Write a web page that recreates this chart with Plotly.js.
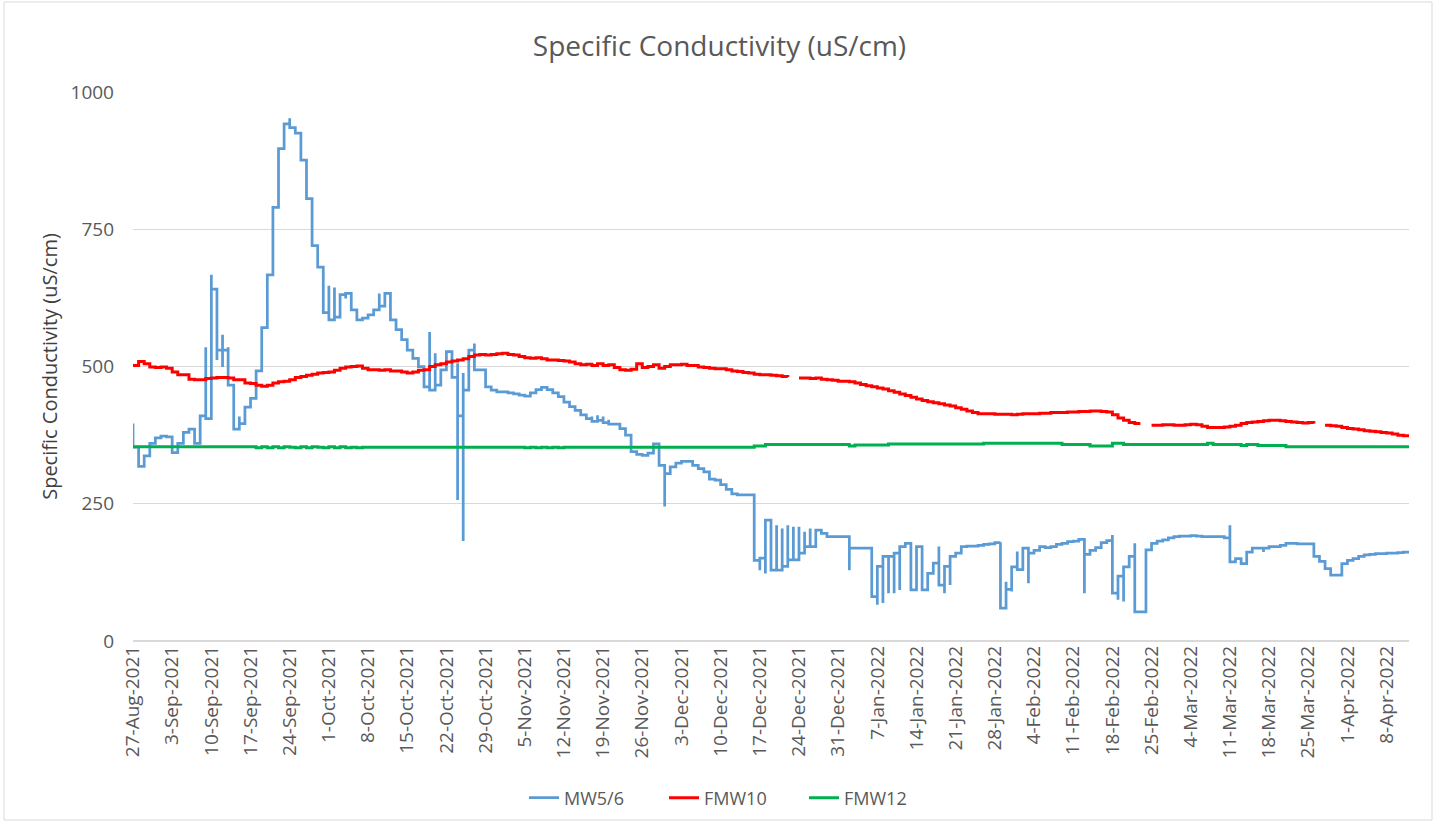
<!DOCTYPE html>
<html>
<head>
<meta charset="utf-8">
<script src="https://cdn.plot.ly/plotly-3.0.1.min.js"></script>
<style>
  html, body { margin: 0; padding: 0; background: #ffffff; }
  #chart { width: 1439px; height: 824px; }
</style>
</head>
<body>
<div id="chart"></div>
<script>
// ---------------- DATA ----------------
const startDate = '2021-08-27';
const endDay = 228;           // last day shown on the axis (12-Apr-2022)
const seriesNames = ['MW5/6', 'FMW10', 'FMW12'];

// MW5/6: day offset from 27-Aug-2021 and reading (several readings per day where the record jumps)
const mwDay = [
  0,0, 1,1, 2,2, 3, 4, 5, 6, 7,7, 8,8, 9, 10, 11, 12,12, 13,13, 14,14,14, 15,15,15, 16,16,16, 17,17, 18, 19,19,
  20, 21, 22, 23, 24, 25, 26, 27, 28,28, 29, 30, 31, 32, 33, 34,34, 35,35, 36,36, 37, 38,38, 39,
  40, 41, 42, 43, 44,44,44, 45,45, 46, 47, 48, 49, 50, 51, 52,52, 53,53, 54,54, 55, 56, 57,57, 58,58,58, 59,59,59,
  60, 61,61, 62, 63, 64, 65, 66, 67, 68, 69, 70, 71, 72, 73, 74, 75, 76, 77, 78, 79,
  80, 81, 82,82, 83,83, 84,84, 85,85, 86, 87, 88, 89,89, 90, 91, 92, 93,93, 94,94,94, 95,95, 96, 97, 98, 99,
  100, 101, 102, 103, 104, 105, 106, 107, 108, 109, 110, 111,111, 112,112, 113,113, 114,114, 115,115, 116,116, 117,117, 118,118, 119,119,
  120,120, 121,121, 122, 123, 124, 125, 126, 127, 128,128,128, 129, 130, 131, 132,132, 133,133, 134,134, 135,135, 136,136, 137,137, 138,138, 139,139,
  140,140, 141, 142,142, 143, 144,144, 145,145, 146,146, 147, 148, 149, 150, 151, 152, 153, 154, 155,155, 156,156, 157,157,157, 158,158, 159,
  160,160, 161, 162, 163, 164, 165, 166, 167, 168, 169, 170,170,170, 171, 172, 173, 174, 175,175, 176,176,176, 177,177, 178, 179,179,179,179,
  180, 181,181, 182, 183, 184, 185, 186, 187, 188, 189, 190, 191, 192, 193, 194, 195, 196,196,196,196, 197, 198, 199,
  200, 201, 202,202, 203, 204, 205, 206, 207, 208, 209, 210, 211,211, 212, 213, 214,214, 215, 216, 217, 218, 219,
  220, 221, 222, 223, 224, 225, 226, 227, 228
];
const mwVal = [
  396,353, 335,318, 320,337, 360, 370, 373, 372, 360,343, 345,360, 380, 386, 360, 400,410, 535,405, 415,667,641, 641,512,530, 558,499,530, 535,466, 386, 409,396,
  426, 442, 492, 571, 667, 790, 897, 942, 952,935, 925, 876, 806, 720, 681, 647,598, 647,585, 644,590, 631, 624,633, 603,
  585, 588, 594, 603, 618,633,610, 618,633, 585, 567, 549, 530, 515, 500, 476,463, 563,457, 524,466, 494, 527, 512,480, 506,257,410, 488,182,457,
  530, 542,494, 494, 463, 457, 454, 454, 452, 450, 448, 446, 452, 458, 462, 458, 452, 445, 435, 427, 420,
  412, 405, 409,400, 411,402, 409,398, 403,395, 395, 387, 375, 354,345, 340, 338, 342, 346,359, 345,359,320, 245,305, 317, 324, 327, 327,
  320, 314, 308, 295, 293, 285, 276, 268, 266, 266, 266, 257,147, 129,151, 123,220, 217,129, 211,129, 205,136, 211,148, 208,148, 208,160,
  199,172, 205,172, 202, 196, 190, 190, 190, 190, 175,129,169, 169, 169, 169, 96,81, 66,136, 69,154, 87,154, 87,160, 93,172, 172,178, 178,93,
  154,172, 93, 93,123, 142, 172,102, 87,136, 102,154, 160, 172, 173, 173, 174, 176, 177, 179, 180,60, 108,94, 120,90,135, 163,130, 169,
  105,160, 165, 172, 170, 172, 176, 178, 181, 182, 185, 87,118,158, 165, 170, 179, 183, 193,87, 100,75,118, 72,135, 154, 172,178,123,53,
  53, 120,166, 178, 182, 184, 188, 190, 191, 191, 192, 191, 190, 190, 190, 190, 188, 185,157,211,144, 150, 141, 162,
  169, 169, 162,169, 172, 172, 174, 178, 178, 177, 177, 177, 172,154, 145, 132, 126,120, 120, 141, 147, 150, 154,
  157, 158, 159, 159, 160, 160, 161, 162, 162
];

// FMW10: one reading per day, day 0 .. 228 (null = no record)
const fmw10 = [
  502, 509, 505, 499, 498, 499, 497, 490, 485, 485,
  477, 476, 476, 478, 479, 480, 480, 479, 476, 476,
  470, 469, 466, 464, 466, 470, 472, 473, 476, 480,
  482, 484, 486, 488, 489, 490, 493, 497, 499, 500,
  501, 497, 494, 494, 493, 494, 492, 492, 490, 488,
  490, 493, 494, 500, 503, 505, 508, 510, 512, 514,
  518, 521, 522, 521, 522, 523, 524, 522, 521, 518,
  516, 515, 516, 514, 512, 512, 511, 510, 508, 505,
  503, 504, 502, 505, 502, 503, 498, 494, 493, 495,
  505, 498, 500, 503, 497, 500, 503, 503, 504, 502,
  502, 499, 498, 497, 496, 496, 494, 492, 491, 489,
  488, 486, 485, 485, 484, 483, 482, 481, null, 479,
  479, 478, 479, 477, 476, 475, 473, 473, 472, 470,
  467, 465, 463, 461, 459, 456, 453, 450, 447, 444,
  441, 438, 436, 434, 432, 430, 428, 425, 422, 419,
  416, 414, 414, 414, 413, 413, 413, 412, 413, 414,
  414, 414, 415, 415, 416, 416, 416, 417, 417, 418,
  418, 419, 419, 418, 417, 412, 406, 402, 398, 396,
  396, null, 393, 393, 394, 394, 393, 393, 394, 395,
  394, 391, 389, 389, 389, 390, 391, 393, 396, 398,
  399, 400, 401, 402, 402, 401, 400, 399, 398, 397,
  398, 396, null, 393, 392, 391, 389, 387, 386, 385,
  383, 382, 381, 380, 379, 377, 375, 374, 373
];

// FMW12: one reading per day, day 0 .. 228
const fmw12 = [
  354, 354, 354, 354, 354, 354, 354, 354, 354, 354,
  354, 354, 354, 354, 354, 354, 354, 354, 354, 354,
  354, 354, 352, 354, 352, 354, 352, 354, 353, 352,
  354, 352, 354, 353, 352, 354, 352, 354, 352, 353,
  352, 353, 353, 353, 353, 353, 353, 353, 353, 353,
  353, 353, 353, 353, 353, 353, 353, 353, 353, 353,
  353, 353, 353, 353, 353, 353, 353, 353, 353, 353,
  352, 353, 352, 353, 352, 353, 352, 353, 353, 353,
  353, 353, 353, 353, 353, 353, 353, 353, 353, 353,
  353, 353, 353, 353, 353, 353, 353, 353, 353, 353,
  353, 353, 353, 353, 353, 353, 353, 353, 353, 353,
  353, 355, 355, 358, 358, 358, 358, 358, 358, 358,
  358, 358, 358, 358, 358, 358, 358, 358, 355, 357,
  357, 357, 357, 357, 357, 359, 359, 359, 359, 359,
  359, 359, 359, 359, 359, 359, 359, 359, 359, 359,
  359, 359, 360, 360, 360, 360, 360, 360, 360, 360,
  360, 360, 360, 360, 360, 360, 358, 358, 358, 358,
  358, 355, 355, 355, 355, 360, 360, 358, 358, 358,
  358, 358, 358, 358, 358, 358, 358, 358, 358, 358,
  358, 358, 360, 358, 358, 358, 358, 358, 356, 358,
  358, 356, 356, 356, 356, 356, 354, 354, 354, 354,
  354, 354, 354, 354, 354, 354, 354, 354, 354, 354,
  354, 354, 354, 354, 354, 354, 354, 354, 354
];

const yTicks = [0, 250, 500, 750, 1000];

// ---------------- HELPERS ----------------
const DAY_MS = 86400000;
const t0 = Date.UTC(2021, 7, 27);
function dayToDate(d) { return new Date(t0 + d * DAY_MS).toISOString().slice(0, 10); }
const allDays = fmw10.map((_, i) => dayToDate(i));

const FONT = 'Open Sans, Lato, sans-serif';
const GREY = '#595959';

const traces = [
  { x: mwDay.map(dayToDate), y: mwVal, name: seriesNames[0], type: 'scatter', mode: 'lines',
    line: { color: '#5B9BD5', width: 2.75, shape: 'hv' }, connectgaps: false },
  { x: allDays, y: fmw10, name: seriesNames[1], type: 'scatter', mode: 'lines',
    line: { color: '#FF0000', width: 3, shape: 'hv' }, connectgaps: false },
  { x: allDays, y: fmw12, name: seriesNames[2], type: 'scatter', mode: 'lines',
    line: { color: '#00B050', width: 3, shape: 'hv' }, connectgaps: false }
];

const layout = {
  width: 1439, height: 824,
  margin: { l: 133, r: 30, t: 92, b: 183, autoexpand: false },
  paper_bgcolor: '#ffffff', plot_bgcolor: '#ffffff',
  font: { family: FONT, color: GREY, size: 19 },
  title: { text: 'Specific Conductivity (uS/cm)', font: { family: FONT, size: 28, color: GREY },
           x: 0.5, xref: 'container', xanchor: 'center', y: 1 - 46 / 824, yref: 'container', yanchor: 'middle' },
  xaxis: {
    type: 'date', range: [dayToDate(0), dayToDate(endDay)],
    tick0: startDate, dtick: 7 * DAY_MS, tickformat: '%-d-%b-%Y', tickangle: -90,
    tickfont: { family: FONT, size: 19, color: GREY },
    showgrid: false, zeroline: false, showline: false, ticks: '', automargin: false
  },
  yaxis: {
    range: [0, 1000], tickvals: yTicks, ticktext: yTicks.map(String),
    tickfont: { family: FONT, size: 19, color: GREY },
    showgrid: true, gridcolor: '#D9D9D9', gridwidth: 1.3,
    zeroline: true, zerolinecolor: '#D9D9D9', zerolinewidth: 1.3,
    showline: false, ticks: '', ticklabelstandoff: 18, automargin: false,
    title: { text: 'Specific Conductivity (uS/cm)', font: { family: FONT, size: 20, color: '#404040' }, standoff: 7 }
  },
  showlegend: true,
  legend: { orientation: 'h', xref: 'container', x: 734 / 1439, xanchor: 'center',
            yref: 'container', y: 1 - 798 / 824, yanchor: 'middle',
            font: { family: FONT, size: 18, color: GREY },
            entrywidth: 95, entrywidthmode: 'pixels', traceorder: 'normal' },
  shapes: [{
    type: 'rect', xref: 'paper', yref: 'paper',
    x0: (4 - 133) / 1276, x1: (1432 - 133) / 1276,
    y0: (641 - 820) / 549, y1: (641 - 2) / 549,
    line: { color: '#D9D9D9', width: 1 }, fillcolor: 'rgba(0,0,0,0)', layer: 'below'
  }]
};

Plotly.newPlot('chart', traces, layout, { displayModeBar: false, staticPlot: true });
</script>
</body>
</html>
